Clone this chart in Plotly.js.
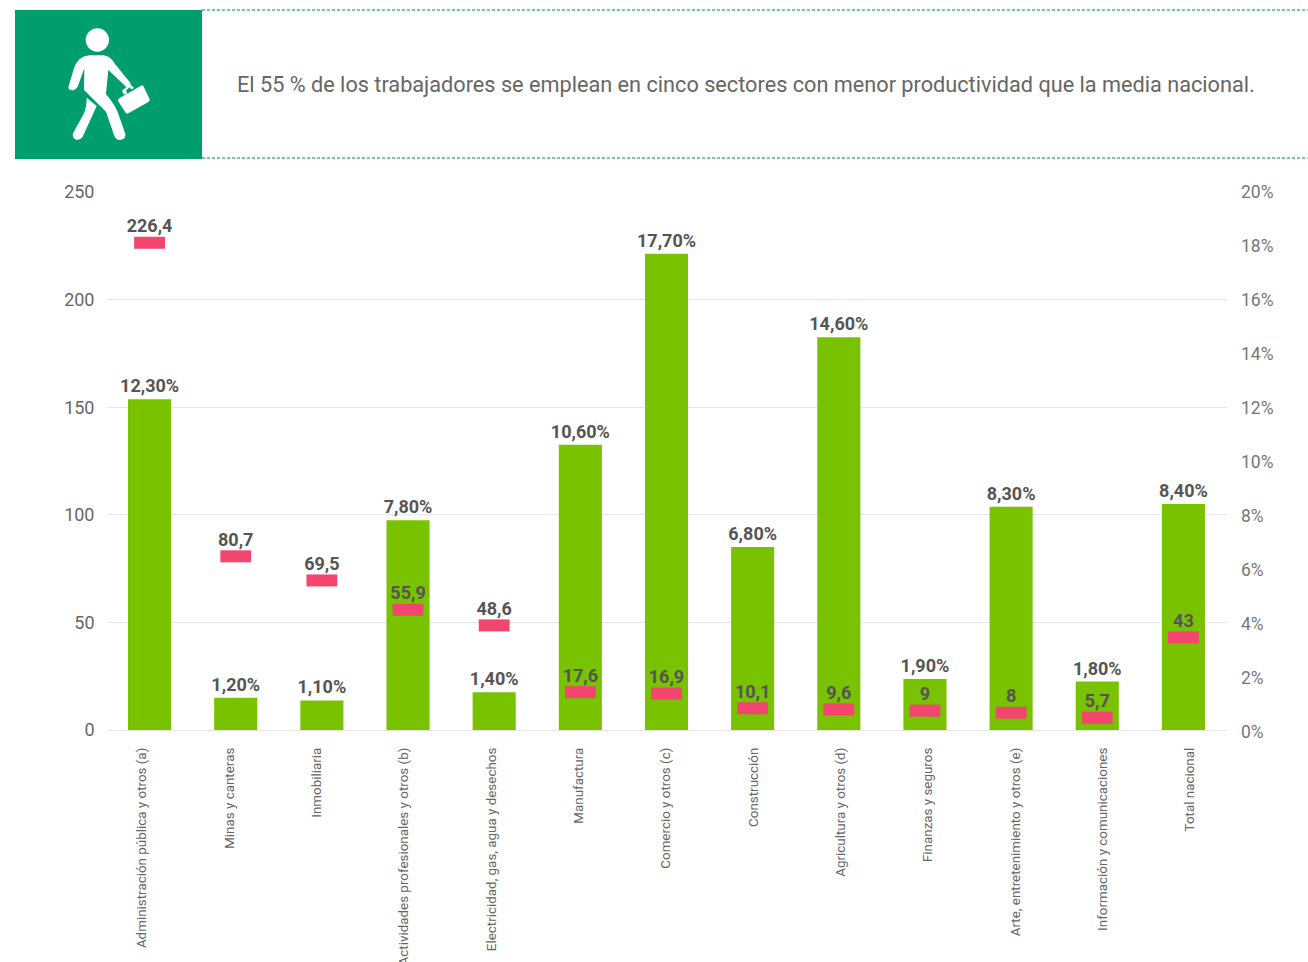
<!DOCTYPE html>
<html><head><meta charset="utf-8">
<script src="https://cdn.plot.ly/plotly-3.0.1.min.js"></script>
<style>html,body{margin:0;padding:0;background:#fff;overflow:hidden}#c{width:1308px;height:962px}</style>
</head><body><div id="c"></div>
<script>
const categories = ["Administración pública y otros (a)","Minas y canteras","Inmobiliaria","Actividades profesionales y otros (b)","Electricidad, gas, agua y desechos","Manufactura","Comercio y otros (c)","Construcción","Agricultura y otros (d)","Finanzas y seguros","Arte, entretenimiento y otros (e)","Información y comunicaciones","Total nacional"];
const employmentShare = [12.3,1.2,1.1,7.8,1.4,10.6,17.7,6.8,14.6,1.9,8.3,1.8,8.4];
const productivity = [226.4,80.7,69.5,55.9,48.6,17.6,16.9,10.1,9.6,9,8,5.7,43];
const headline = "El 55 % de los trabajadores se emplean en cinco sectores con menor productividad que la media nacional.";
const W=1308,H=962, FONT="Roboto, sans-serif";
const px=x=>x/W, py=y=>1-y/H;
function iconPath(d){
  return d.replace(/(-?[\d.]+),(-?[\d.]+)/g,(m,a,b)=>px(+a/3)+","+py(+b/3));
}
const white={type:'path',xref:'paper',yref:'paper',fillcolor:'#fff',line:{width:0},layer:'above'};
const shapes=[
 {type:'rect',xref:'paper',yref:'paper',x0:px(15),x1:px(202),y0:py(159),y1:py(10),fillcolor:'#009e6e',line:{width:0},layer:'above'},
 {type:'line',xref:'paper',yref:'paper',x0:px(202),x1:1,y0:py(10),y1:py(10),line:{color:'#3fb995',width:1.5,dash:'3px,2px'}},
 {type:'line',xref:'paper',yref:'paper',x0:px(202),x1:1,y0:py(158),y1:py(158),line:{color:'#3fb995',width:1.5,dash:'3px,2px'}},
 {type:'circle',xref:'paper',yref:'paper',x0:px(85.7),x1:px(109),y0:py(51.7),y1:py(28.3),fillcolor:'#fff',line:{width:0},layer:'above'},
 {...white,path:iconPath("M206,258 L222,205 Q232,170 268,166 L310,166 Q332,168 345,192 L392,250 L382,264 L325,210 L318,282 Q350,320 358,350 L376,402 Q378,418 360,420 Q348,420 343,408 L318,335 L252,270 L253,205 L233,260 Q225,272 214,271 Q203,268 206,258 Z")},
 {...white,path:iconPath("M260,293 L290,318 L248,410 Q240,422 228,419 Q215,414 219,400 L252,340 Q260,320 260,293 Z")},
 {...white,path:iconPath("M358,295 L423,257 Q428,254 431,260 L449,298 Q450,303 445,306 L385,340 Q379,343 376,337 L354,303 Q352,298 358,295 Z")},
 {...white,path:iconPath("M366,272 L390,252 L402,264 L394,268 L388,262 L378,272 L382,280 L372,284 Z")}
];
const traces=[
 {type:'bar',x:categories,y:employmentShare,yaxis:'y',xaxis:'x',width:0.5,
  marker:{color:'#78c200'},text:employmentShare.map(v=>v.toFixed(2).replace('.',',')+'%'),
  textposition:'outside',constraintext:'none',cliponaxis:false,textfont:{family:FONT,size:18,color:'#555',weight:700},hoverinfo:'skip'},
 {type:'scatter',mode:'markers',x:categories,y:productivity,yaxis:'y2',xaxis:'x',
  marker:{symbol:'line-ew',size:22,color:'#f2466f',line:{color:'#f2466f',width:12}},cliponaxis:false,hoverinfo:'skip'},
 {type:'scatter',mode:'markers+text',x:categories,y:productivity,yaxis:'y2',xaxis:'x',
  marker:{size:8,opacity:0},
  text:productivity.map(v=>String(v).replace('.',',')),textposition:'top center',cliponaxis:false,
  textfont:{family:FONT,size:18,color:'#555',weight:700},hoverinfo:'skip'},
 // carries only the separately spaced category labels and the right-hand percentage labels
 {type:'scatter',mode:'markers',x:categories,y:employmentShare,xaxis:'x2',yaxis:'y3',marker:{opacity:0,size:1},hoverinfo:'skip'}
];
const layout={
 width:W,height:H,margin:{l:0,r:0,t:0,b:0},paper_bgcolor:'#fff',plot_bgcolor:'rgba(0,0,0,0)',showlegend:false,
 font:{family:FONT,color:'#666'},shapes:shapes,
 xaxis:{domain:[px(106.5),px(1226.5)],type:'category',showticklabels:false,ticks:'',linecolor:'#e4e4e4',linewidth:1,showline:true,automargin:false,showgrid:false,zeroline:false,range:[-0.5,12.5]},
 xaxis2:{domain:[px(98.3),px(1233.7)],type:'category',anchor:'y3',tickangle:-90,ticks:'',ticklabelstandoff:12,
   tickfont:{family:FONT,size:13.4,color:'#666'},showline:false,automargin:false,showgrid:false,zeroline:false,range:[-0.5,12.5]},
 yaxis:{domain:[py(730),py(192)],range:[0,20],side:'right',anchor:'x',showgrid:false,zeroline:false,showticklabels:false,ticks:'',automargin:false},
 yaxis2:{domain:[py(730),py(192)],range:[0,250],dtick:50,side:'left',overlaying:'y',anchor:'x',showgrid:true,gridcolor:'#e6e6e6',gridwidth:1,zeroline:false,
   tickfont:{family:FONT,size:18,color:'#666'},ticks:'',automargin:false,ticklabelstandoff:11},
 yaxis3:{domain:[py(732),py(192)],range:[0,20],dtick:2,side:'right',anchor:'free',position:px(1226),showgrid:false,zeroline:false,ticksuffix:'%',
   tickfont:{family:FONT,size:17.5,color:'#777'},ticks:'',automargin:false,ticklabelstandoff:14},
 annotations:[{xref:'paper',yref:'paper',x:px(235),y:py(84),xanchor:'left',yanchor:'middle',showarrow:false,text:headline,
   font:{family:FONT,size:21.7,color:'#666'}}]
};
Plotly.newPlot('c',traces,layout,{displayModeBar:false,staticPlot:true});
</script></body></html>
